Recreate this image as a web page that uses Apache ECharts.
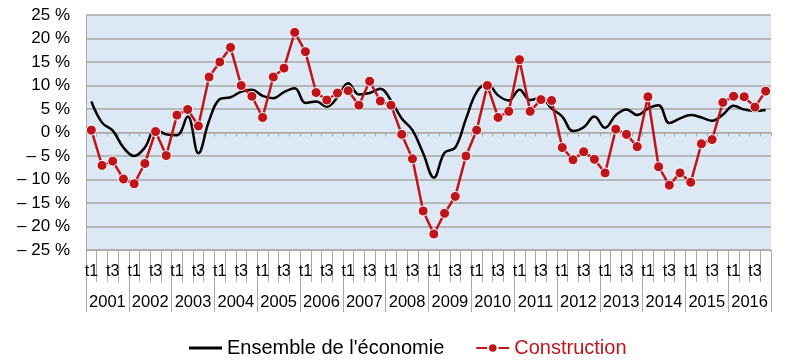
<!DOCTYPE html>
<html>
<head>
<meta charset="utf-8">
<script src="https://cdn.jsdelivr.net/npm/echarts@6/dist/echarts.min.js"></script>
<style>
html,body{margin:0;padding:0;background:#fff;}
#chart{width:800px;height:364px;}
</style>
</head>
<body>
<div id="chart"></div>
<script>
const years = ['2001','2002','2003','2004','2005','2006','2007','2008','2009','2010','2011','2012','2013','2014','2015','2016'];
const quarterLabels = ['t1','','t3',''];
const yTicks = [-25,-20,-15,-10,-5,0,5,10,15,20,25];
const seriesNames = ["Ensemble de l'économie", 'Construction'];

const economie = [6.6, 2.1, 0.4, -3.2, -5.0, -3.2, 0.7, -0.4, -0.6, 3.4, -4.4, 2.5, 7.1, 7.5, 8.7, 9.1,
  7.8, 7.3, 8.6, 9.4, 6.3, 6.6, 5.5, 7.5, 10.5, 8.1, 8.4, 9.3, 6.8, 3.0, 0.5, -4.4,
  -9.6, -4.3, -3.2, 2.9, 8.6, 10.3, 7.9, 6.8, 9.1, 6.9, 7.4, 5.1, 3.4, 0.3, 1.1, 3.4,
  1.0, 3.7, 4.9, 3.7, 5.1, 5.8, 2.0, 3.0, 3.7, 3.2, 2.5, 3.8, 5.7, 4.9, 4.6, 4.8];

const construction = [0.5, -7.0, -6.1, -9.9, -10.9, -6.6, 0.2, -4.9, 3.7, 4.9, 1.4, 11.8, 15.0, 18.1, 10.0, 7.7,
  3.2, 11.8, 13.7, 21.3, 17.2, 8.5, 6.9, 8.4, 8.9, 5.8, 10.9, 6.7, 5.8, -0.4, -5.6, -16.7,
  -21.6, -17.2, -13.6, -5.0, 0.5, 10.0, 3.2, 4.5, 15.5, 4.5, 7.0, 6.8, -3.2, -5.8, -4.1, -5.7,
  -8.6, 0.7, -0.4, -3.0, 7.6, -7.3, -11.2, -8.6, -10.6, -2.4, -1.5, 6.4, 7.7, 7.6, 5.4, 8.8];

const quarters = [];
years.forEach(y => { for (let q = 1; q <= 4; q++) quarters.push(y + ' t' + q); });

const FONT = '"Liberation Sans", Arial, sans-serif';
const GRID_GREY = '#a9a9a9';
const RED = '#c0141b';

const chart = echarts.init(document.getElementById('chart'), null, {renderer: 'canvas'});
chart.setOption({
  animation: false,
  textStyle: {fontFamily: FONT},
  grid: {left: 86, right: 29, top: 15, bottom: 114, show: true, backgroundColor: '#dce8f4', borderWidth: 0},
  legend: {
    left: 184, top: 333,
    itemWidth: 33, itemHeight: 12, itemGap: 31,
    textStyle: {fontSize: 20, fontFamily: FONT},
    data: [
      {name: seriesNames[0], icon: 'path://M0,0H33V3H0Z', textStyle: {color: '#000'}},
      {name: seriesNames[1], textStyle: {color: RED}}
    ]
  },
  xAxis: [
    {
      type: 'category', data: quarters, position: 'bottom', boundaryGap: true,
      axisLine: {onZero: false, lineStyle: {color: GRID_GREY, width: 1}},
      axisTick: {show: true, interval: 0, length: 32, lineStyle: {color: GRID_GREY}},
      axisLabel: {interval: 0, margin: 14, fontSize: 16, color: '#000', fontFamily: FONT,
        formatter: (v, i) => quarterLabels[i % 4]},
      splitLine: {show: false}
    },
    {
      type: 'category', data: years, position: 'bottom', boundaryGap: true,
      axisLine: {show: false, onZero: false},
      axisTick: {show: true, interval: 0, length: 62, lineStyle: {color: GRID_GREY}},
      axisLabel: {interval: 0, margin: 44, fontSize: 16.5, color: '#000', fontFamily: FONT},
      splitLine: {show: false}
    },
    {
      type: 'category', data: quarters, position: 'bottom', boundaryGap: true,
      axisLine: {show: true, onZero: true, lineStyle: {color: GRID_GREY, width: 1}},
      axisTick: {show: true, interval: 0, length: 4, lineStyle: {color: GRID_GREY}},
      axisLabel: {show: false},
      splitLine: {show: false}
    }
  ],
  yAxis: {
    type: 'value', min: yTicks[0], max: yTicks[yTicks.length - 1], interval: 5,
    axisLine: {show: true, lineStyle: {color: GRID_GREY, width: 1}},
    axisTick: {show: false},
    splitLine: {show: true, lineStyle: {color: GRID_GREY, width: 1.5}},
    axisLabel: {margin: 16, fontSize: 17, color: '#000', fontFamily: FONT,
      formatter: v => v < 0 ? '\u2013 ' + Math.abs(v) + ' %' : v + ' %'}
  },
  series: [
    {
      name: seriesNames[0], type: 'line', data: economie, xAxisIndex: 0,
      smooth: 0.4, symbol: 'none', showSymbol: false,
      lineStyle: {color: '#000', width: 2.5}, itemStyle: {color: '#000'}, z: 2
    },
    {
      name: seriesNames[1], type: 'line', data: construction, xAxisIndex: 0,
      symbol: 'circle', symbolSize: 10, showSymbol: true,
      lineStyle: {color: RED, width: 2.5},
      itemStyle: {color: RED, borderColor: '#fff', borderWidth: 1}, z: 3
    }
  ]
});
</script>
</body>
</html>
